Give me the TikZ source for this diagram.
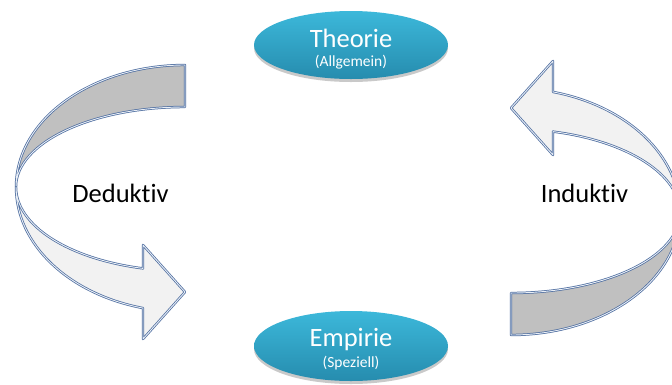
\documentclass[tikz,border=0pt]{standalone}
\usepackage{fontspec}
\setmainfont{Carlito}[Ligatures=NoCommon]
\usetikzlibrary{shapes.geometric,shadows}
\definecolor{edgeblue}{RGB}{79,110,160}
\definecolor{edgelight}{RGB}{232,238,246}
\definecolor{backgray}{RGB}{192,192,192}
\definecolor{frontlight}{RGB}{242,242,242}
\definecolor{ovaltop}{RGB}{60,184,218}
\definecolor{ovalbot}{RGB}{38,140,174}
\tikzset{
  bandline/.style={draw=edgeblue, double=edgelight, double distance=0.9pt, line width=0.75pt, line join=round},
  backband/.style={bandline, fill=backgray},
  frontband/.style={bandline, fill=frontlight},
  ovalbox/.style={ellipse, draw=none, top color=ovaltop, bottom color=ovalbot,
    minimum width=194pt, minimum height=68pt, inner sep=0pt,
    drop shadow={shadow xshift=0pt, shadow yshift=-3pt, opacity=0.35, fill=black!60}},
  bigwhite/.style={text=white, font=\fontsize{26.5}{30}\selectfont, anchor=base},
  smallwhite/.style={text=white, font=\fontsize{15.5}{18}\selectfont, anchor=base},
  sidelabel/.style={text=black, font=\fontsize{26.5}{30}\selectfont, anchor=base}
}
\begin{document}
\begin{tikzpicture}[x=1pt, y=-1pt]
\useasboundingbox (0,0) rectangle (672,384);
\fill[white] (0,0) rectangle (672,384);
% left curved arrow (Deduktiv)
\begin{scope}
  \path[backband] (185,65) arc[start angle=270, end angle=180, x radius=169, y radius=122]
     arc[start angle=180, end angle=270, x radius=169, y radius=80] -- cycle;
  \path[frontband] (16,187) arc[start angle=180, end angle=104.4, x radius=169, y radius=125]
     -- (143,339) -- (185,292) -- (143,245) -- (143,268.4)
     arc[start angle=104.4, end angle=180, x radius=169, y radius=84] -- cycle;
\end{scope}
% right curved arrow (Induktiv), the left one turned by 180 degrees
\begin{scope}[rotate around={180:(348,200)}]
  \path[backband] (185,65) arc[start angle=270, end angle=180, x radius=169, y radius=122]
     arc[start angle=180, end angle=270, x radius=169, y radius=80] -- cycle;
  \path[frontband] (16,187) arc[start angle=180, end angle=104.4, x radius=169, y radius=125]
     -- (143,339) -- (185,292) -- (143,245) -- (143,268.4)
     arc[start angle=104.4, end angle=180, x radius=169, y radius=84] -- cycle;
\end{scope}
% ovals
\node[ovalbox] (theorie) at (351,45) {};
\node[bigwhite] (theorielbl) at (351,47) {Theorie};
\node[smallwhite] (theoriesub) at (351,66.5) {(Allgemein)};
\node[ovalbox, minimum height=70pt] (empirie) at (351,346) {};
\node[bigwhite] (empirielbl) at (351,346.5) {Empirie};
\node[smallwhite] (empiriesub) at (351,367) {(Speziell)};
% side labels
\node[sidelabel] (deduktiv) at (120.5,202) {Deduktiv};
\node[sidelabel] (induktiv) at (584.5,202) {Induktiv};
\end{tikzpicture}
\end{document}
